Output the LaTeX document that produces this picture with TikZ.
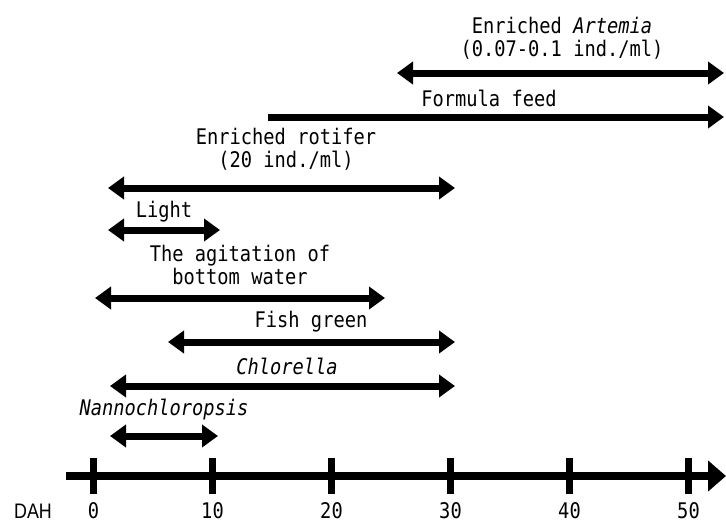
\documentclass[tikz,border=0pt]{standalone}
\usepackage{fontspec}
\setmainfont[FakeStretch=0.87]{DejaVu Sans Mono}
\newfontfamily\dahfont[FakeStretch=0.85]{Liberation Sans}
\usetikzlibrary{arrows.meta}
\begin{document}
\begin{tikzpicture}[x=1pt,y=-1pt,
  lbl/.style={inner sep=0pt, font=\fontsize{21.5}{23}\selectfont, align=center},
  num/.style={inner sep=0pt, font=\fontsize{21.5}{23}\selectfont},
  span/.style={line width=7pt, {Triangle[width=22pt,length=16pt]}-{Triangle[width=22pt,length=16pt]}},
  spanr/.style={line width=7pt, -{Triangle[width=22pt,length=16pt]}},
  axisline/.style={line width=8pt, -{Triangle[width=30pt,length=18pt]}},
  tick/.style={line width=7pt}]
\useasboundingbox (0,0) rectangle (726,525);
% texts
\node[lbl] (tart) at (562,38.5) {Enriched \textit{Artemia}\\(0.07-0.1 ind./ml)};
\node[lbl] (tform) at (489,98) {Formula feed};
\node[lbl] (trot) at (286,149) {Enriched rotifer\\(20 ind./ml)};
\node[lbl] (tlight) at (164,212) {Light};
\node[lbl] (tagit) at (240,265) {The agitation of\\bottom water};
\node[lbl] (tfish) at (311,322) {Fish green};
\node[lbl] (tchl) at (287,366) {\textit{Chlorella}};
\node[lbl] (tnan) at (164,410) {\textit{Nannochloropsis}};
% arrow ends
\coordinate (a1) at (397,73);  \coordinate (a2) at (724,73);
\coordinate (f1) at (268,117); \coordinate (f2) at (724,117);
\coordinate (r1) at (108,188); \coordinate (r2) at (455,188);
\coordinate (l1) at (108,230); \coordinate (l2) at (220,230);
\coordinate (g1) at (95,298);  \coordinate (g2) at (385,298);
\coordinate (s1) at (168,342); \coordinate (s2) at (455,342);
\coordinate (c1) at (110,386); \coordinate (c2) at (455,386);
\coordinate (n1) at (110,436); \coordinate (n2) at (218,436);
\draw[span] (a1) -- (a2);
\draw[spanr] (f1) -- (f2);
\draw[span] (r1) -- (r2);
\draw[span] (l1) -- (l2);
\draw[span] (g1) -- (g2);
\draw[span] (s1) -- (s2);
\draw[span] (c1) -- (c2);
\draw[span] (n1) -- (n2);
% axis
\coordinate (ax0) at (66,476); \coordinate (ax1) at (726,476);
\draw[axisline] (ax0) -- (ax1);
\foreach \v/\x in {0/93.5,10/212.5,20/331.5,30/450.5,40/569.5,50/688.5}{
  \coordinate (tt\v) at (\x,458); \coordinate (tb\v) at (\x,494);
  \draw[tick] (tt\v) -- (tb\v);
  \node[num] (n\v) at (\x,511) {\v};
}
\node[inner sep=0pt, font=\dahfont\fontsize{21}{22}\selectfont] (dah) at (33,511) {DAH};
\end{tikzpicture}
\end{document}
